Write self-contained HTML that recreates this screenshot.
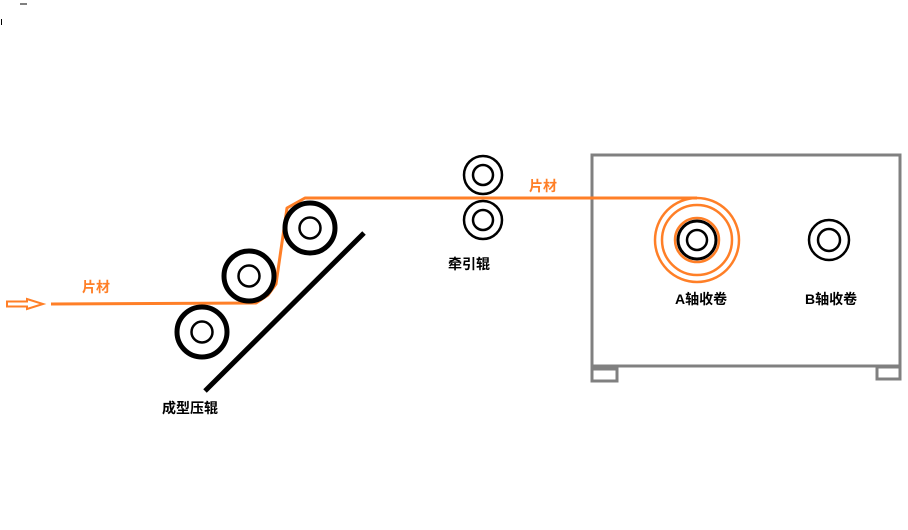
<!DOCTYPE html>
<html><head><meta charset="utf-8"><style>
html,body{margin:0;padding:0;background:#fff;width:908px;height:530px;overflow:hidden}
text{font-family:"Liberation Sans","Noto Sans CJK SC",sans-serif;font-weight:bold;font-size:14px}
</style></head><body>
<svg width="908" height="530" xmlns="http://www.w3.org/2000/svg">
<line x1="20" y1="4" x2="27" y2="4" stroke="#000" stroke-width="1"/>
<line x1="1.5" y1="19" x2="1.5" y2="25" stroke="#000" stroke-width="1"/>
<!-- box -->
<rect x="592" y="155" width="308" height="211" fill="none" stroke="#808080" stroke-width="3"/>
<rect x="592" y="369" width="25" height="12" fill="none" stroke="#808080" stroke-width="3"/>
<rect x="877" y="367" width="23" height="12" fill="none" stroke="#808080" stroke-width="3"/>
<!-- orange path -->
<polyline points="51,304 256,303 268,295 276,284 287,208 305,198 697,198" fill="none" stroke="#ff7f27" stroke-width="3" stroke-linejoin="round"/>
<!-- arrow -->
<path d="M7,301.5 H27 V299 L43,304 L27,309 V306.5 H7 Z" fill="none" stroke="#ff7f27" stroke-width="2"/>
<!-- A roll orange circles -->
<g fill="none" stroke="#ff7f27" stroke-width="2.5">
<circle cx="697" cy="240" r="42"/>
<circle cx="697" cy="240" r="35"/>
<circle cx="697" cy="240" r="22"/>
</g>
<g fill="none" stroke="#000">
<circle cx="697" cy="240" r="19" stroke-width="3"/>
<circle cx="697" cy="240" r="10" stroke-width="2.5"/>
<circle cx="829" cy="240" r="20" stroke-width="2.5"/>
<circle cx="829" cy="240" r="11" stroke-width="2.5"/>
<circle cx="483" cy="175" r="19" stroke-width="2.5"/>
<circle cx="483" cy="175" r="10" stroke-width="2.5"/>
<circle cx="483" cy="220" r="19" stroke-width="2.5"/>
<circle cx="483" cy="220" r="10" stroke-width="2.5"/>
<circle cx="202" cy="332" r="25" stroke-width="5"/>
<circle cx="202" cy="332" r="10.5" stroke-width="2.5"/>
<circle cx="249" cy="276" r="25" stroke-width="5"/>
<circle cx="249" cy="276" r="10.5" stroke-width="2.5"/>
<circle cx="310" cy="228" r="25" stroke-width="5"/>
<circle cx="310" cy="228" r="10.5" stroke-width="2.5"/>
<line x1="205" y1="391" x2="364" y2="233" stroke-width="5"/>
</g>
<text x="82" y="292" fill="#ff7f27" font-size="13">片材</text>
<text x="529" y="191" fill="#ff7f27" font-size="13">片材</text>
<text x="448" y="269" fill="#000">牵引辊</text>
<text x="162" y="413" fill="#000">成型压辊</text>
<text x="675" y="304" fill="#000">A轴收卷</text>
<text x="805" y="304" fill="#000">B轴收卷</text>
</svg>
</body></html>
